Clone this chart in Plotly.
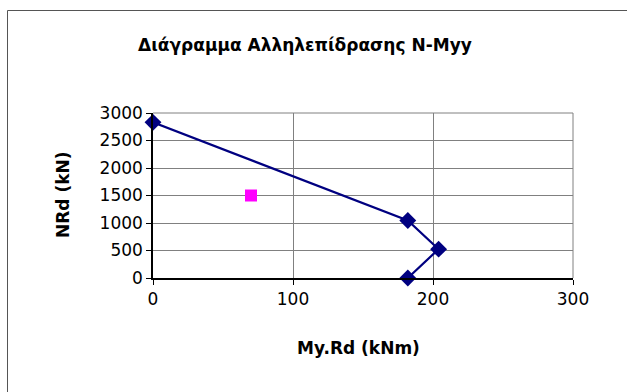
import plotly.graph_objects as go

# Interaction curve data
my_rd = [0, 182, 204, 182]
n_rd = [2830, 1045, 525, 0]
# Applied load point
my_ed = [70]
n_ed = [1500]

x_ticks = [0, 100, 200, 300]
y_ticks = [0, 500, 1000, 1500, 2000, 2500, 3000]

title_text = "Διάγραμμα Αλληλεπίδρασης N-Myy"
x_title = "My.Rd (kNm)"
y_title = "NRd (kN)"

W, H = 627, 392
L, R, T, B = 153, 54, 113, 114
pw, ph = W - L - R, H - T - B

def px(p):
    return (p - L) / pw

def py(p):
    return (H - B - p) / ph

fig = go.Figure()
fig.add_trace(go.Scatter(x=my_rd, y=n_rd, mode="lines+markers",
                         line=dict(color="#000080", width=2.2),
                         marker=dict(symbol="diamond", size=13, color="#000080"),
                         cliponaxis=False, showlegend=False))
fig.add_trace(go.Scatter(x=my_ed, y=n_ed, mode="markers",
                         marker=dict(symbol="square", size=12, color="#FF00FF"),
                         cliponaxis=False, showlegend=False))

font = "DejaVu Sans, Arial, sans-serif"
fig.update_layout(
    width=W, height=H,
    margin=dict(l=L, r=R, t=T, b=B),
    paper_bgcolor="white", plot_bgcolor="white",
    font=dict(family=font, size=17, color="black"),
    xaxis=dict(range=[0, 300], tickvals=x_ticks, showgrid=True, gridcolor="#808080",
               gridwidth=1, showline=True, linecolor="black", linewidth=1.5,
               ticks="outside", ticklen=5, tickcolor="black", zeroline=False,
               mirror=False, fixedrange=True),
    yaxis=dict(range=[0, 3000], tickvals=y_ticks, showgrid=True, gridcolor="#808080",
               gridwidth=1, showline=True, linecolor="black", linewidth=1.5,
               ticks="outside", ticklen=5, tickcolor="black", zeroline=False,
               fixedrange=True),
    shapes=[
        dict(type="rect", xref="paper", yref="paper",
             x0=px(7.5), x1=px(700), y0=py(450), y1=py(10.5),
             line=dict(color="#555555", width=1), layer="below"),
        dict(type="line", xref="paper", yref="paper", x0=0, x1=1, y0=1, y1=1,
             line=dict(color="#808080", width=1)),
        dict(type="line", xref="paper", yref="paper", x0=1, x1=1, y0=0, y1=1,
             line=dict(color="#808080", width=1)),
    ],
    annotations=[
        dict(text="<b>" + title_text + "</b>", xref="paper", yref="paper",
             x=px(305), y=py(45), showarrow=False, font=dict(size=17),
             xanchor="center", yanchor="middle"),
        dict(text="<b>" + x_title + "</b>", xref="paper", yref="paper",
             x=px(358), y=py(348), showarrow=False, font=dict(size=17),
             xanchor="center", yanchor="middle"),
        dict(text="<b>" + y_title + "</b>", xref="paper", yref="paper",
             x=px(63), y=py(195), showarrow=False, font=dict(size=17),
             textangle=-90, xanchor="center", yanchor="middle"),
    ],
)

fig.write_html("out.html", config={"displayModeBar": False},
               post_script="document.body.style.margin='0';")
